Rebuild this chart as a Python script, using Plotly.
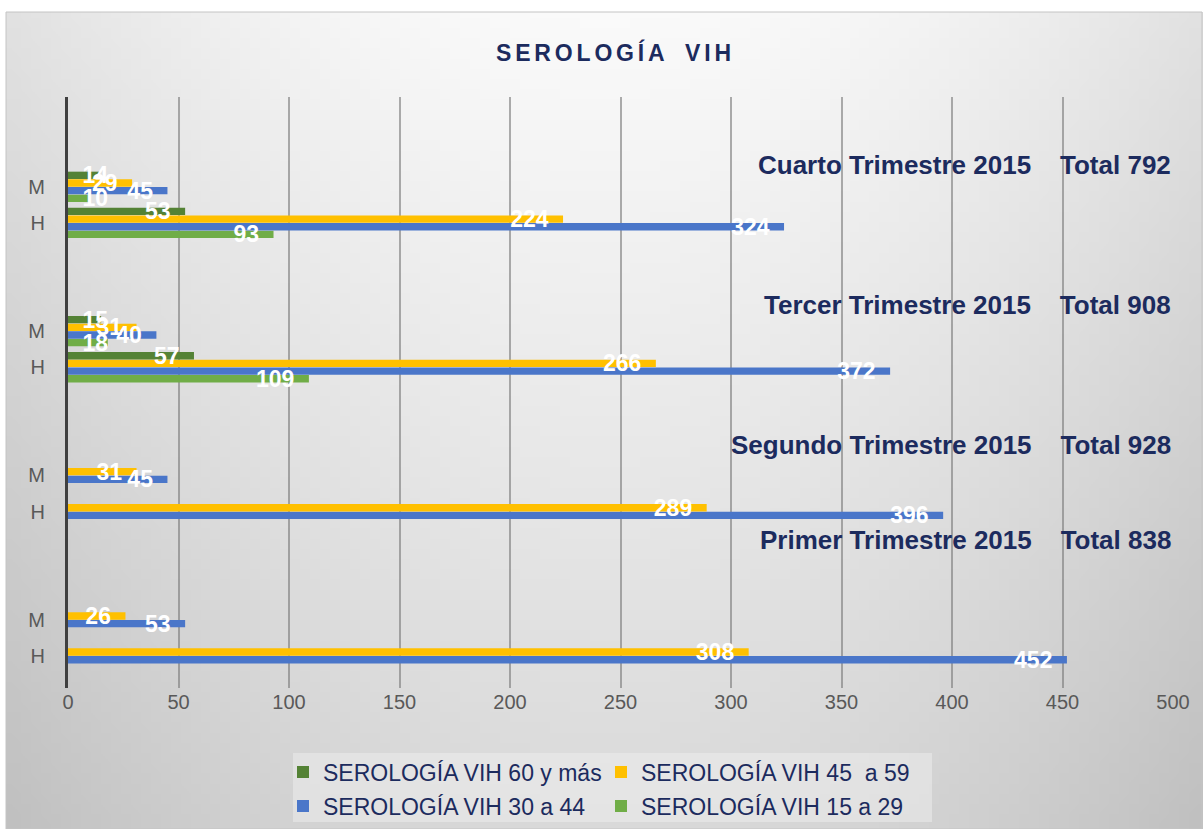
import base64
import struct
import zlib

import plotly.graph_objects as go

# ---------------- data ----------------
quarters = ["Primer Trimestre 2015", "Segundo Trimestre 2015",
            "Tercer Trimestre 2015", "Cuarto Trimestre 2015"]
quarter_totals = [838, 928, 908, 792]
sexes = ["H", "M"]

series_names = ["SEROLOGÍA VIH 15 a 29", "SEROLOGÍA VIH 30 a 44",
                "SEROLOGÍA VIH 45  a 59", "SEROLOGÍA VIH 60 y más"]
# order of rows: Primer H, Primer M, Segundo H, Segundo M, Tercer H, Tercer M, Cuarto H, Cuarto M
vih_15_29 = [None, None, None, None, 109, 18, 93, 10]
vih_30_44 = [452, 53, 396, 45, 372, 40, 324, 45]
vih_45_59 = [308, 26, 289, 31, 266, 31, 224, 29]
vih_60_mas = [None, None, None, None, 57, 15, 53, 14]

series_values = [vih_15_29, vih_30_44, vih_45_59, vih_60_mas]
series_colors = ["#70ad47", "#4a76c9", "#ffc000", "#548235"]
series_legend = ["legend2", "legend2", "legend", "legend"]

# category slots: each quarter takes 4 slots (H, M, and two empty slots)
row_pos = [q * 4 + s for q in range(len(quarters)) for s in range(len(sexes))]
row_lab = [s for q in range(len(quarters)) for s in sexes]

# ---------------- background gradient image ----------------
def gradient_png(w, h):
    rows = []
    for j in range(h):
        v = j / (h - 1)
        row = bytearray([0])
        for i in range(w):
            a = (i / (w - 1) - 0.5) / 0.5
            val = 250 - 25 * a * a - 33 * v
            row.append(max(0, min(255, int(round(val)))))
        rows.append(bytes(row))
    raw = b"".join(rows)

    def chunk(t, d):
        return struct.pack(">I", len(d)) + t + d + struct.pack(">I", zlib.crc32(t + d) & 0xFFFFFFFF)

    ihdr = struct.pack(">IIBBBBB", w, h, 8, 0, 0, 0, 0)
    png = b"\x89PNG\r\n\x1a\n" + chunk(b"IHDR", ihdr) + chunk(b"IDAT", zlib.compress(raw)) + chunk(b"IEND", b"")
    return "data:image/png;base64," + base64.b64encode(png).decode()

# ---------------- figure ----------------
W, H = 1203, 829
ML, MR, MT, MB = 68, 30, 97, 141
PW, PH = W - ML - MR, H - MT - MB


def px_to_paper_x(px):
    return (px - ML) / PW


def px_to_paper_y(py):
    return (H - MB - py) / PH


SMALL = 20  # labels of very short bars start at the axis instead of the bar end


def label_big(v):
    return "" if (v is None or v < SMALL) else f"{v}\u2002"


def label_small(v):
    return "" if (v is None or v >= SMALL) else f"\u2002{v}"


label_font = dict(family="Liberation Sans", size=23, color="white", weight="bold")

fig = go.Figure()
# bars
for i, (name, vals, col, lg) in enumerate(zip(series_names, series_values, series_colors, series_legend)):
    fig.add_trace(go.Bar(
        name=name, orientation="h", y=row_pos, x=vals,
        offsetgroup=f"g{i}", legend=lg,
        marker=dict(color=col, line=dict(width=0)),
        hoverinfo="skip",
    ))
# data labels drawn on top of every bar (same offset groups, transparent fill)
for i, vals in enumerate(series_values):
    for fmt, anchor in ((label_big, "end"), (label_small, "start")):
        fig.add_trace(go.Bar(
            orientation="h", y=row_pos, x=vals, offsetgroup=f"g{i}", showlegend=False,
            marker=dict(color="rgba(0,0,0,0)", line=dict(width=0)),
            text=[fmt(v) for v in vals],
            textposition="inside", insidetextanchor=anchor, textangle=0,
            constraintext="none", cliponaxis=False,
            textfont=label_font,
            hoverinfo="skip",
        ))

bg_x0, bg_y0, bg_x1, bg_y1 = 6, 12, 1203, 829
fig.add_layout_image(dict(
    source=gradient_png(120, 80), xref="paper", yref="paper",
    x=px_to_paper_x(bg_x0), y=px_to_paper_y(bg_y0),
    sizex=(bg_x1 - bg_x0) / PW, sizey=(bg_y1 - bg_y0) / PH,
    sizing="stretch", xanchor="left", yanchor="top", layer="below",
))
fig.add_shape(type="rect", xref="paper", yref="paper",
              x0=px_to_paper_x(bg_x0), x1=px_to_paper_x(bg_x1 - 1),
              y0=px_to_paper_y(bg_y1), y1=px_to_paper_y(bg_y0),
              line=dict(color="#c4c4c4", width=1), fillcolor="rgba(0,0,0,0)", layer="below")
# legend box
fig.add_shape(type="rect", xref="paper", yref="paper",
              x0=px_to_paper_x(293), x1=px_to_paper_x(932),
              y0=px_to_paper_y(822), y1=px_to_paper_y(753),
              line=dict(width=0), fillcolor="rgba(242,242,242,0.45)", layer="below")

# quarter labels
label_y = [3.22, 5.85, 9.73, 13.61]
for q, tot, ly in zip(quarters, quarter_totals, label_y):
    fig.add_annotation(
        text=f"{q}\u00a0\u00a0\u00a0\u00a0Total {tot}", xref="paper", yref="y",
        x=px_to_paper_x(1173), y=ly, xanchor="right", yanchor="middle",
        showarrow=False,
        font=dict(family="Liberation Sans", size=26, color="#1c2b5e", weight="bold"),
    )

title_txt = "\u2006".join(list("SEROLOGÍA")) + "\u2006\u00a0\u00a0\u2006" + "\u2006".join(list("VIH"))
fig.add_annotation(
    text=title_txt, xref="paper", yref="paper",
    x=px_to_paper_x(613), y=px_to_paper_y(52), xanchor="center", yanchor="middle",
    showarrow=False,
    font=dict(family="Liberation Sans", size=23, color="#1c2b5e", weight="bold"),
)

legend_common = dict(
    orientation="h", traceorder="reversed",
    x=px_to_paper_x(283), xanchor="left", yanchor="middle",
    entrywidth=273, entrywidthmode="pixels",
    bgcolor="rgba(0,0,0,0)",
    font=dict(family="Liberation Sans", size=23, color="#1c2b5e"),
)

fig.update_layout(
    width=W, height=H,
    margin=dict(l=ML, r=MR, t=MT, b=MB, autoexpand=False),
    paper_bgcolor="white", plot_bgcolor="rgba(0,0,0,0)",
    barmode="group", bargap=0.15, bargroupgap=0.04,
    showlegend=True,
    legend=dict(legend_common, y=px_to_paper_y(772)),
    legend2=dict(legend_common, y=px_to_paper_y(806)),
    xaxis=dict(
        range=[0, 500], dtick=50, tick0=0,
        showgrid=True, gridcolor="rgba(120,120,120,0.6)", gridwidth=1.5,
        zeroline=False, showline=False, ticks="",
        tickfont=dict(family="Liberation Sans", size=20, color="#595959"),
    ),
    yaxis=dict(
        range=[-0.89, 15.49], tickmode="array", tickvals=row_pos, ticktext=row_lab,
        showgrid=False, zeroline=False,
        showline=True, linecolor="#404040", linewidth=3,
        ticks="", ticklabelstandoff=16,
        tickfont=dict(family="Liberation Sans", size=20, color="#595959"),
    ),
)

fig.write_html(
    "out.html",
    config={"displayModeBar": False},
    post_script="document.body.style.margin='0px';document.body.style.overflow='hidden';",
)
